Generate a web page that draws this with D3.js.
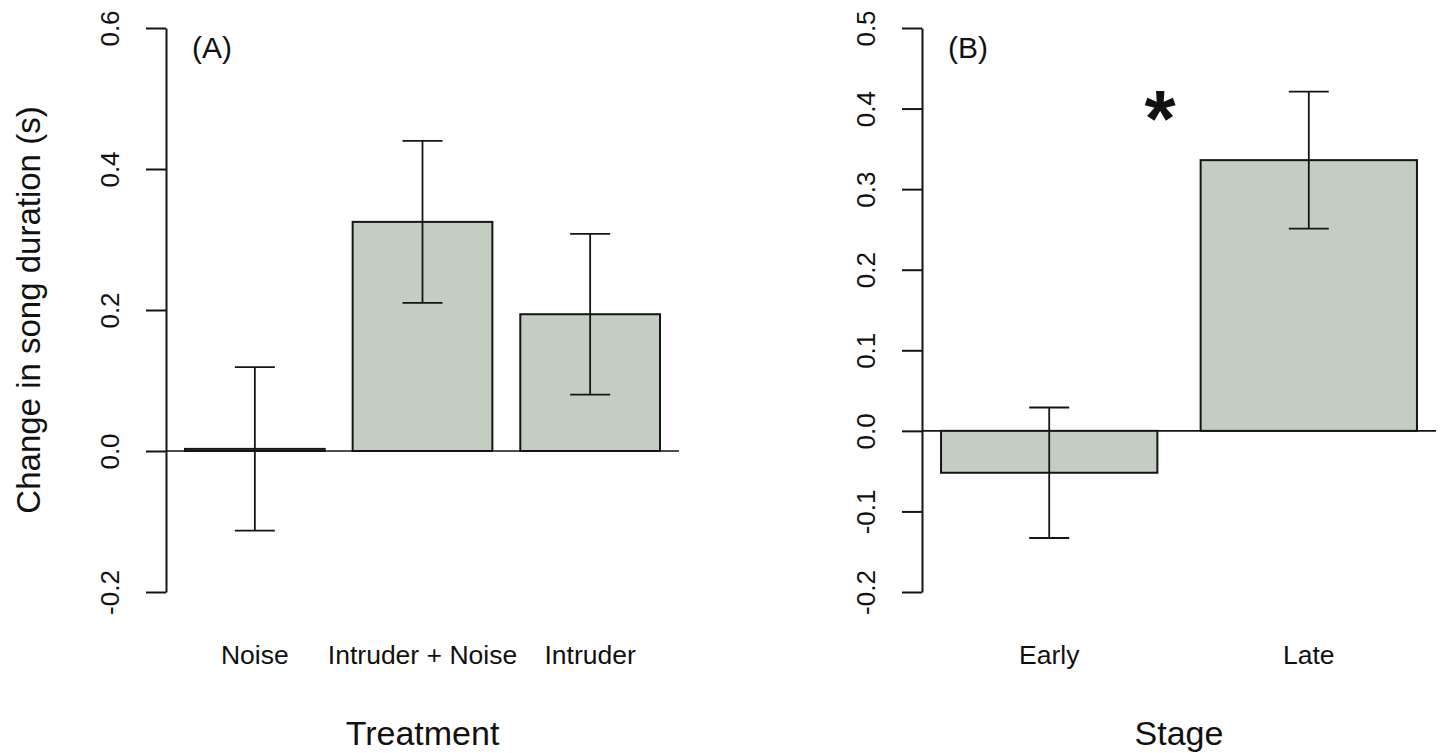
<!DOCTYPE html>
<html>
<head>
<meta charset="utf-8">
<script src="https://cdn.jsdelivr.net/npm/d3@7"></script>
<style>
  body { margin: 0; background: #fff; }
  text { font-family: Arial, "Liberation Sans", sans-serif; fill: #111; }
</style>
</head>
<body>
<script>
// Panel A: treatment
const treatments = ['Noise', 'Intruder + Noise', 'Intruder'];
const treatmentMeans = [0.003, 0.325, 0.194];
const treatmentSE = [0.116, 0.115, 0.114];
const ticksA = [-0.2, 0.0, 0.2, 0.4, 0.6];

// Panel B: stage
const stages = ['Early', 'Late'];
const stageMeans = [-0.052, 0.336];
const stageSE = [0.081, 0.085];
const ticksB = [-0.2, -0.1, 0.0, 0.1, 0.2, 0.3, 0.4, 0.5];

const BAR_FILL = '#c3cdc1';
const INK = '#151515';
const CAP_HALF = 20;

var svg = d3.select('body')
    .append('svg')
    .attr('width', 1440)
    .attr('height', 753);

// barplot-style x scale: bars of width 1 with 0.2 space, 4% padding on the ends
function barScale(n, left, right) {
    let lo = 0.2, hi = 1.2 * n;
    let pad = (hi - lo) * 0.04;
    return d3.scaleLinear().domain([lo - pad, hi + pad]).range([left, right]);
}

function panel(opts) {
    let x = barScale(opts.cats.length, opts.left, opts.right);
    let y = d3.scaleLinear().domain(opts.ydomain).range([592, 28]);
    let g = svg.append('g');

    // zero line across the plot region
    g.append('line')
        .attr('x1', opts.left).attr('x2', opts.right)
        .attr('y1', y(0)).attr('y2', y(0))
        .attr('stroke', INK).attr('stroke-width', 1.6);

    let rows = opts.cats.map((c, i) => ({ cat: c, mean: opts.means[i], se: opts.se[i], i: i }));

    g.selectAll('.bar')
        .data(rows)
        .enter()
        .append('rect')
        .attr('class', 'bar')
        .attr('x', d => x(0.2 + 1.2 * d.i))
        .attr('width', d => x(1.2 + 1.2 * d.i) - x(0.2 + 1.2 * d.i))
        .attr('y', d => y(Math.max(0, d.mean)))
        .attr('height', d => Math.abs(y(d.mean) - y(0)))
        .attr('fill', BAR_FILL)
        .attr('stroke', INK)
        .attr('stroke-width', 2);

    // error bars
    let eb = g.selectAll('.err')
        .data(rows)
        .enter()
        .append('g')
        .attr('class', 'err')
        .attr('transform', d => 'translate(' + x(0.7 + 1.2 * d.i) + ',0)');
    eb.append('line')
        .attr('y1', d => y(d.mean + d.se)).attr('y2', d => y(d.mean - d.se))
        .attr('stroke', INK).attr('stroke-width', 1.8);
    eb.append('line')
        .attr('x1', -CAP_HALF).attr('x2', CAP_HALF)
        .attr('y1', d => y(d.mean + d.se)).attr('y2', d => y(d.mean + d.se))
        .attr('stroke', INK).attr('stroke-width', 1.8);
    eb.append('line')
        .attr('x1', -CAP_HALF).attr('x2', CAP_HALF)
        .attr('y1', d => y(d.mean - d.se)).attr('y2', d => y(d.mean - d.se))
        .attr('stroke', INK).attr('stroke-width', 1.8);

    // y axis with rotated labels (plain hyphen for negatives, like R)
    let ax = g.append('g')
        .attr('transform', 'translate(' + opts.left + ',0)')
        .call(d3.axisLeft(y).tickValues(opts.ticks).tickSize(20).tickSizeOuter(0)
            .tickFormat(d => d.toFixed(1)));
    ax.select('.domain').attr('stroke', INK).attr('stroke-width', 2);
    ax.selectAll('.tick line').attr('stroke', INK).attr('stroke-width', 2);
    ax.selectAll('.tick text')
        .attr('x', 0).attr('y', 0).attr('dy', null)
        .attr('text-anchor', 'middle')
        .attr('transform', 'translate(-47,0) rotate(-90)')
        .style('font-size', '26px')
        .style('font-family', 'Arial, "Liberation Sans", sans-serif')
        .attr('fill', INK);

    // category labels
    g.selectAll('.cat')
        .data(rows)
        .enter()
        .append('text')
        .attr('class', 'cat')
        .attr('x', d => x(0.7 + 1.2 * d.i))
        .attr('y', 664)
        .attr('text-anchor', 'middle')
        .style('font-size', '26.5px')
        .text(d => d.cat);

    // x title
    g.append('text')
        .attr('x', (opts.left + opts.right) / 2)
        .attr('y', 745)
        .attr('text-anchor', 'middle')
        .style('font-size', '34px')
        .text(opts.xtitle);

    // panel tag
    g.append('text')
        .attr('x', opts.left + 26)
        .attr('y', 58)
        .style('font-size', '30px')
        .text(opts.tag);

    return { x: x, y: y, g: g };
}

panel({
    cats: treatments, means: treatmentMeans, se: treatmentSE,
    ticks: ticksA, ydomain: [-0.2, 0.6],
    left: 166, right: 679, xtitle: 'Treatment', tag: '(A)'
});

var pB = panel({
    cats: stages, means: stageMeans, se: stageSE,
    ticks: ticksB, ydomain: [-0.2, 0.5],
    left: 922, right: 1436, xtitle: 'Stage', tag: '(B)'
});

// significance star
pB.g.append('text')
    .attr('x', 1160)
    .attr('y', 146)
    .attr('text-anchor', 'middle')
    .style('font-size', '80px')
    .style('font-weight', 'bold')
    .text('*');

// shared y title
svg.append('text')
    .attr('transform', 'translate(40,310) rotate(-90)')
    .attr('text-anchor', 'middle')
    .style('font-size', '33px')
    .text('Change in song duration (s)');
</script>
</body>
</html>
